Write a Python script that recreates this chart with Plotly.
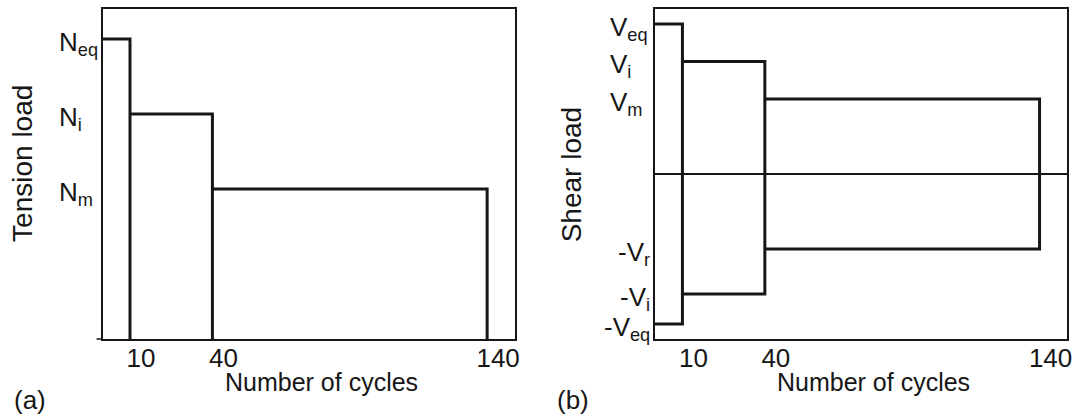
import plotly.graph_objects as go

# Cycle block boundaries (number of cycles)
cycle_edges = [0, 10, 40, 140]
cycle_ticks = [10, 40, 140]
cycle_tick_text = ["10", "40", "140"]

# Tension loading blocks (a)
tension_levels = [10, 7.5, 5]
tension_labels = ["N<sub>eq</sub>", "N<sub>i</sub>", "N<sub>m</sub>"]

# Shear loading blocks (b): positive and negative levels per block
shear_pos = [10, 7.5, 5]
shear_neg = [-10, -8, -5]
shear_pos_labels = ["V<sub>eq</sub>", "V<sub>i</sub>", "V<sub>m</sub>"]
shear_neg_labels = ["-V<sub>eq</sub>", "-V<sub>i</sub>", "-V<sub>r</sub>"]

W, H = 1081, 416
FONT = "Liberation Sans, Arial, sans-serif"
INK = "#161616"
FS = 25

fig = go.Figure()

# (a) tension: each block drawn as top edge and right edge down to zero
tx, ty = [], []
for i, lvl in enumerate(tension_levels):
    x0, x1 = cycle_edges[i], cycle_edges[i + 1]
    tx += [x0, x1, x1, None]
    ty += [lvl, lvl, 0, None]
fig.add_trace(go.Scatter(x=tx, y=ty, mode="lines", xaxis="x", yaxis="y",
                         line=dict(color=INK, width=3), showlegend=False,
                         hoverinfo="skip"))

# (b) shear: each block as a rectangle without its left edge
sx, sy = [], []
for i, (p, n) in enumerate(zip(shear_pos, shear_neg)):
    x0, x1 = cycle_edges[i], cycle_edges[i + 1]
    sx += [x0, x1, x1, x0, None]
    sy += [p, p, n, n, None]
fig.add_trace(go.Scatter(x=sx, y=sy, mode="lines", xaxis="x2", yaxis="y2",
                         line=dict(color=INK, width=3), showlegend=False,
                         hoverinfo="skip"))

ydom = [(H - 339) / H, (H - 9) / H]
common_x = dict(range=[0, 150], showgrid=False, zeroline=False, showline=True,
                mirror=True, linecolor=INK, linewidth=1.5,
                tickmode="array", tickvals=cycle_ticks, ticktext=cycle_tick_text,
                ticks="", ticklabelshift=11, ticklabelstandoff=-5,
                tickfont=dict(family=FONT, size=26, color=INK), fixedrange=True)
common_y = dict(showgrid=False, showline=True, mirror=True, linecolor=INK,
                linewidth=1.5, showticklabels=False, ticks="", fixedrange=True,
                domain=ydom)

fig.update_layout(
    width=W, height=H,
    margin=dict(l=0, r=0, t=0, b=0),
    paper_bgcolor="white", plot_bgcolor="white",
    font=dict(family=FONT, size=FS, color=INK),
    xaxis=dict(common_x, domain=[103 / W, 517 / W], anchor="y"),
    yaxis=dict(common_y, range=[0, 11], zeroline=False, anchor="x"),
    xaxis2=dict(common_x, domain=[658 / W, 1072 / W], anchor="y2"),
    yaxis2=dict(common_y, range=[-11, 11], zeroline=True, zerolinecolor=INK,
                zerolinewidth=1.5, anchor="x2"),
)

ann = []
# level labels, panel (a)
for lbl, lvl in zip(tension_labels, tension_levels):
    ann.append(dict(text=lbl, x=57 / W, xref="paper", xanchor="left",
                    y=lvl, yref="y", yanchor="middle", yshift=-4,
                    showarrow=False, font=dict(size=26)))
# level labels, panel (b)
for lbl, lvl in zip(shear_pos_labels, shear_pos):
    ann.append(dict(text=lbl, x=611 / W, xref="paper", xanchor="left",
                    y=lvl, yref="y2", yanchor="middle", yshift=-4,
                    showarrow=False, font=dict(size=26)))
for lbl, lvl in zip(shear_neg_labels, shear_neg):
    ann.append(dict(text=lbl, x=655 / W, xref="paper", xanchor="right",
                    y=lvl, yref="y2", yanchor="middle", yshift=-4,
                    showarrow=False, font=dict(size=26)))

# axis titles and panel tags
ann += [
    dict(text="Number of cycles", x=323 / W, y=1 - 382 / H, xref="paper",
         yref="paper", xanchor="center", yanchor="middle", showarrow=False),
    dict(text="Number of cycles", x=878 / W, y=1 - 382 / H, xref="paper",
         yref="paper", xanchor="center", yanchor="middle", showarrow=False),
    dict(text="Tension load", x=22 / W, y=1 - 163 / H, xref="paper",
         yref="paper", xanchor="center", yanchor="middle", textangle=-90,
         showarrow=False, font=dict(size=28)),
    dict(text="Shear load", x=575 / W, y=1 - 175 / H, xref="paper",
         yref="paper", xanchor="center", yanchor="middle", textangle=-90,
         showarrow=False, font=dict(size=28)),
    dict(text="(a)", x=30 / W, y=1 - 400 / H, xref="paper", yref="paper",
         xanchor="center", yanchor="middle", showarrow=False,
         font=dict(size=26)),
    dict(text="(b)", x=576 / W, y=1 - 400 / H, xref="paper", yref="paper",
         xanchor="center", yanchor="middle", showarrow=False,
         font=dict(size=26)),
]
fig.update_layout(annotations=ann)

# short extension of the baseline to the left of panel (a)
fig.add_shape(type="line", xref="paper", yref="paper",
              x0=97 / W, x1=103 / W, y0=(H - 339) / H, y1=(H - 339) / H,
              line=dict(color=INK, width=1.5))

fig.write_html("out.html")
